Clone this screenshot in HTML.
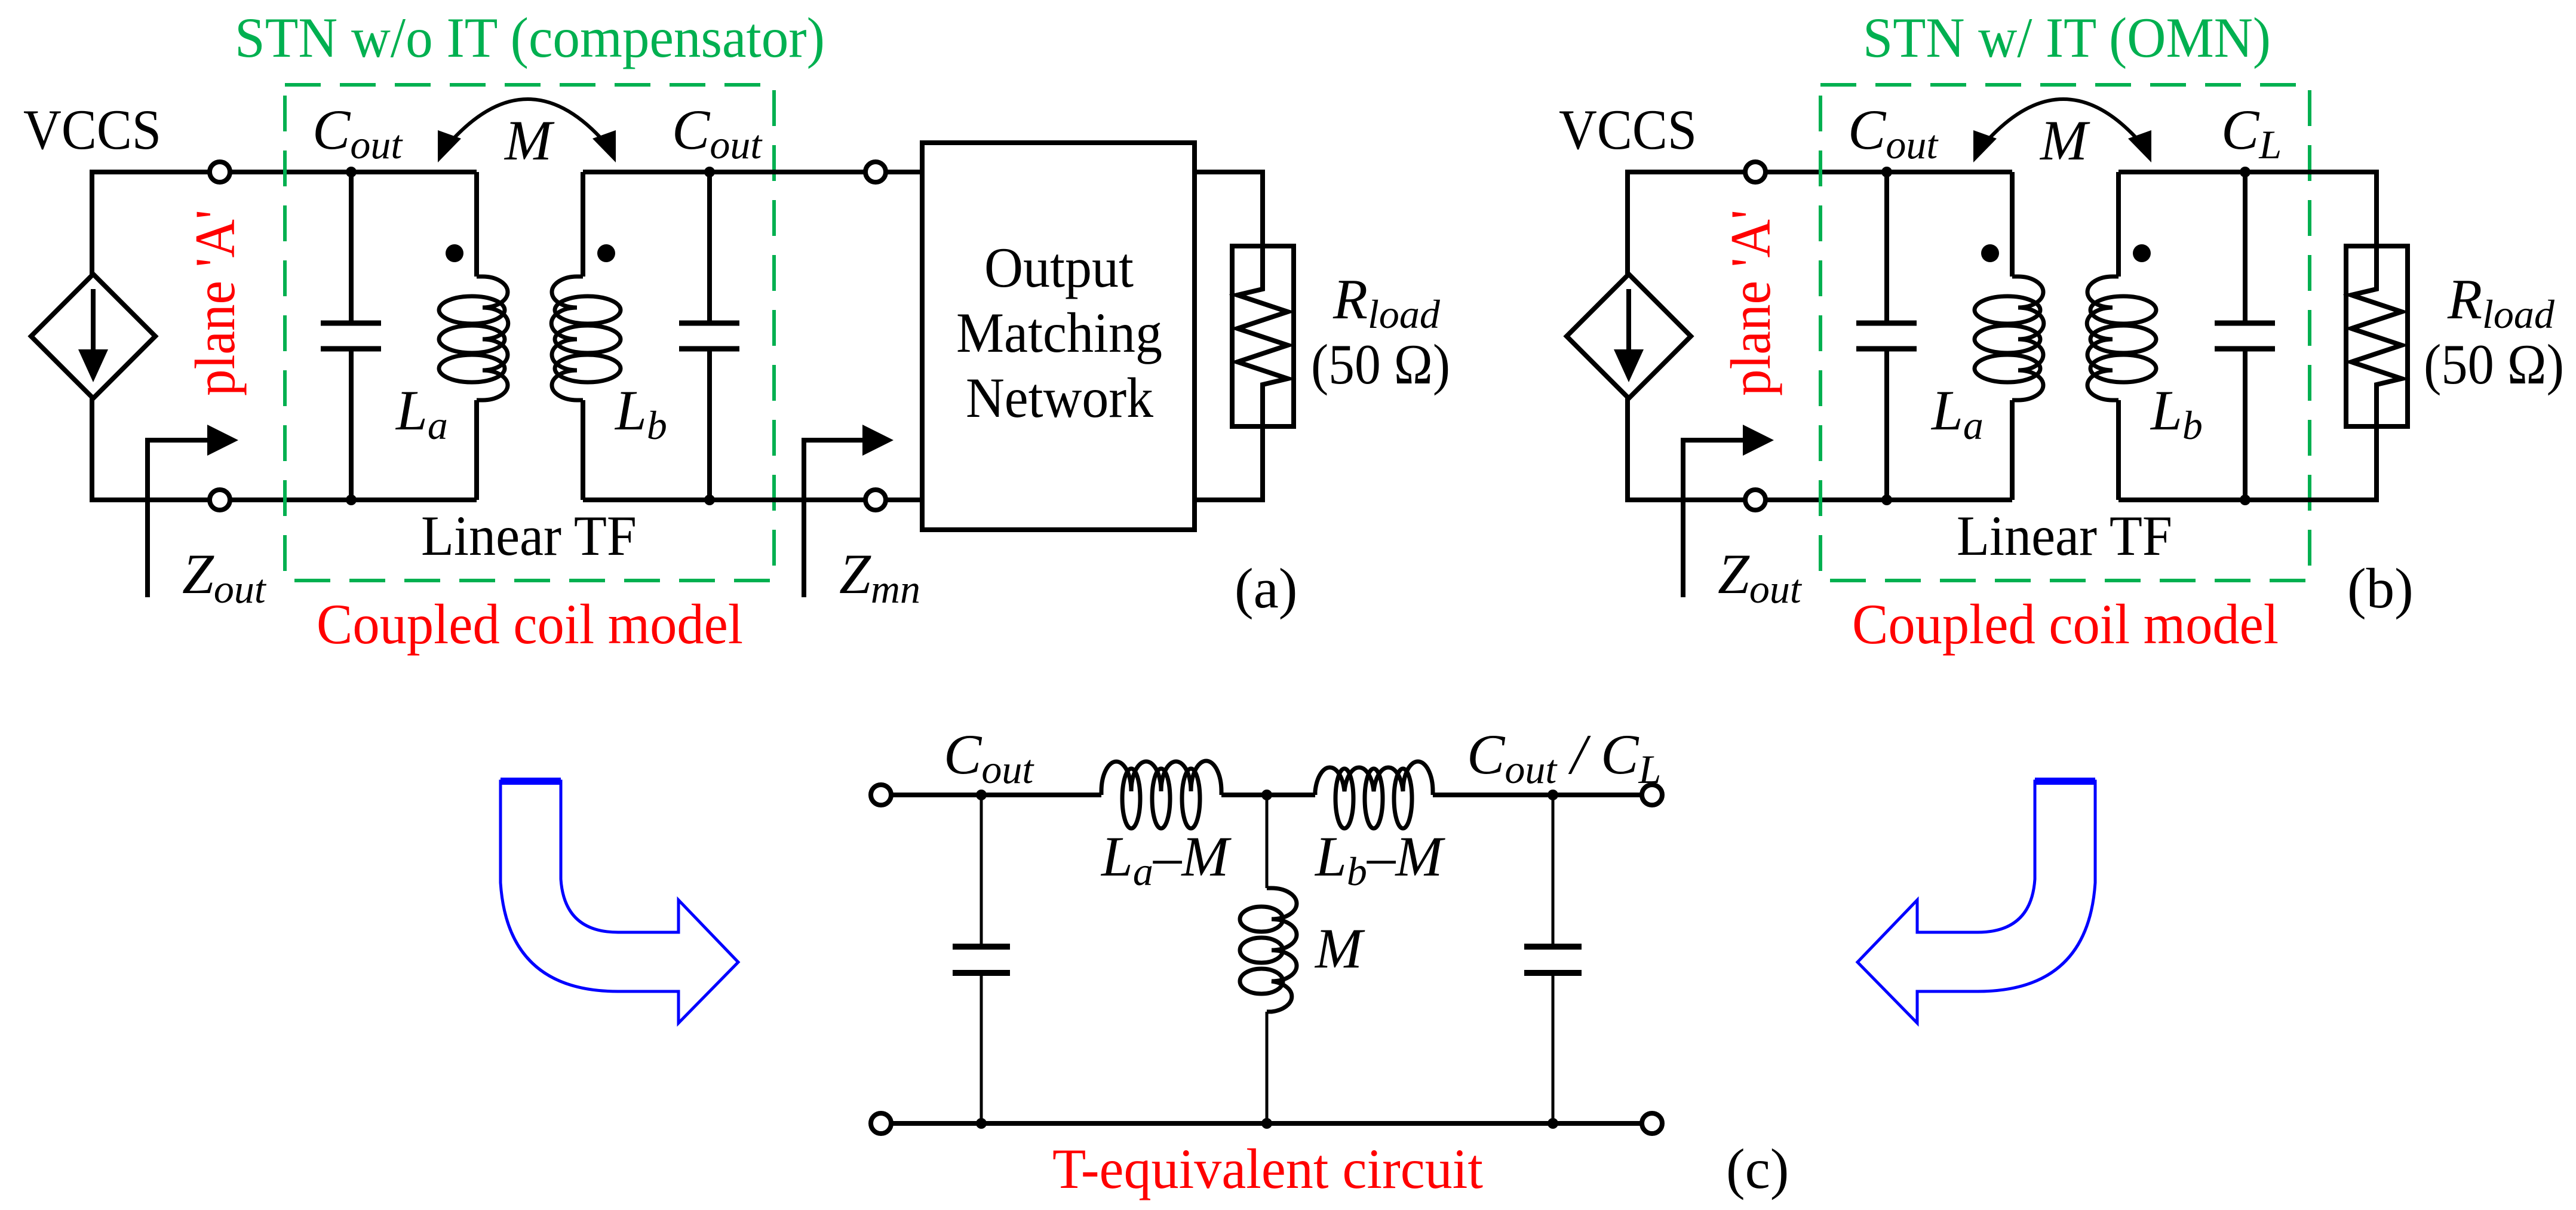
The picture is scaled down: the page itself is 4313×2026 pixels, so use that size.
<!DOCTYPE html>
<html><head><meta charset="utf-8"><style>html,body{margin:0;padding:0;background:#fff}svg{display:block}
text, tspan{font-family:"Liberation Serif","DejaVu Serif",serif;}</style></head>
<body>
<svg width="4313" height="2026" viewBox="0 0 4313 2026" xmlns="http://www.w3.org/2000/svg" font-family="Liberation Serif, DejaVu Serif, serif">
<defs>
<g id="core" fill="none" stroke="#000" stroke-width="8">
  <polyline points="351,288 154,288 154,459"/>
  <polyline points="154,667 154,837 351,837"/>
  <polygon points="156,459 260,563 156,667 52,563" />
  <line x1="156" y1="484" x2="156" y2="600"/>
  <polygon points="131,585 181,585 156,640" fill="#000" stroke="none"/>
  <line x1="385" y1="288" x2="798" y2="288"/>
  <line x1="385" y1="837" x2="798" y2="837"/>
  <circle cx="368" cy="288" r="17" fill="#fff"/>
  <circle cx="368" cy="837" r="17" fill="#fff"/>
  <polyline points="247,1000 247,737 355,737"/>
  <polygon points="347,711 399,737 347,763" fill="#000" stroke="none"/>
  <line x1="588" y1="288" x2="588" y2="541"/>
  <line x1="588" y1="584" x2="588" y2="837"/>
  <line x1="537" y1="541" x2="638" y2="541" stroke-width="9"/>
  <line x1="537" y1="584" x2="638" y2="584" stroke-width="9"/>
  <circle cx="588" cy="288" r="9" fill="#000" stroke="none"/>
  <circle cx="588" cy="837" r="9" fill="#000" stroke="none"/>
  <line x1="798" y1="288" x2="798" y2="463"/>
  <line x1="798" y1="670" x2="798" y2="837"/>
  <path d="M798,463 h10 A42,26 0 0 1 808,515 A42,26 0 0 1 808,568 A42,26 0 0 1 808,620 A42,25 0 0 1 808,670 h-10" stroke-width="7"/>
  <ellipse cx="790" cy="519" rx="55" ry="23" stroke-width="7"/>
  <ellipse cx="790" cy="568" rx="55" ry="23" stroke-width="7"/>
  <ellipse cx="790" cy="617" rx="55" ry="23" stroke-width="7"/>
  <circle cx="761" cy="424" r="15" fill="#000" stroke="none"/>
  <line x1="976" y1="288" x2="976" y2="463"/>
  <line x1="976" y1="670" x2="976" y2="837"/>
  <path d="M976,463 h-10 A42,26 0 0 0 966,515 A42,26 0 0 0 966,568 A42,26 0 0 0 966,620 A42,25 0 0 0 966,670 h10" stroke-width="7"/>
  <ellipse cx="984" cy="519" rx="55" ry="23" stroke-width="7"/>
  <ellipse cx="984" cy="568" rx="55" ry="23" stroke-width="7"/>
  <ellipse cx="984" cy="617" rx="55" ry="23" stroke-width="7"/>
  <circle cx="1015" cy="424" r="15" fill="#000" stroke="none"/>
  <line x1="976" y1="288" x2="1188" y2="288"/>
  <line x1="976" y1="837" x2="1188" y2="837"/>
  <line x1="1188" y1="288" x2="1188" y2="541"/>
  <line x1="1188" y1="584" x2="1188" y2="837"/>
  <line x1="1137" y1="541" x2="1238" y2="541" stroke-width="9"/>
  <line x1="1137" y1="584" x2="1238" y2="584" stroke-width="9"/>
  <circle cx="1188" cy="288" r="9" fill="#000" stroke="none"/>
  <circle cx="1188" cy="837" r="9" fill="#000" stroke="none"/>
  <path d="M752,240 Q884,92 1014,240" stroke-width="6"/>
  <polygon points="733,272 733,218 772,232" fill="#000" stroke="none"/>
  <polygon points="1031,272 1031,218 992,232" fill="#000" stroke="none"/>
  <rect x="477" y="142" width="819" height="830" stroke="#00b050" stroke-width="6" stroke-dasharray="60,32"/>
</g>
<g id="coretext" font-size="95" font-family="Liberation Serif, DejaVu Serif, serif">
  <text x="39" y="249" textLength="231" lengthAdjust="spacingAndGlyphs">VCCS</text>
  <text transform="translate(392,507) rotate(-90)" text-anchor="middle" fill="#ff0000" textLength="312" lengthAdjust="spacingAndGlyphs">plane 'A'</text>
  <text x="305" y="993" font-style="italic">Z<tspan font-size="68" dy="16">out</tspan></text>
  <text x="523" y="249" font-style="italic">C<tspan font-size="68" dy="16">out</tspan></text>
  <text x="845" y="267" font-style="italic">M</text>
  <text x="663" y="719" font-style="italic">L<tspan font-size="68" dy="16">a</tspan></text>
  <text x="1030" y="719" font-style="italic">L<tspan font-size="68" dy="16">b</tspan></text>
  <text x="705" y="929" textLength="361" lengthAdjust="spacingAndGlyphs">Linear TF</text>
  <text x="530" y="1077" fill="#ff0000" textLength="714" lengthAdjust="spacingAndGlyphs">Coupled coil model</text>
</g>
<g id="res" fill="none" stroke="#000" stroke-width="8">
  <rect x="-51" y="412" width="103" height="302"/>
  <polyline points="0,412 0,484 -42,494 42,522 -42,550 42,578 -42,606 42,634 0,644 0,714"/>
</g>
</defs>

<use href="#core"/>
<use href="#coretext"/>
<text x="393" y="95" font-size="95" fill="#00b050" textLength="988" lengthAdjust="spacingAndGlyphs">STN w/o IT (compensator)</text>
<text x="1125" y="249" font-size="95" font-style="italic">C<tspan font-size="68" dy="16">out</tspan></text>
<g fill="none" stroke="#000" stroke-width="8">
  <line x1="1188" y1="288" x2="1449" y2="288"/>
  <line x1="1188" y1="837" x2="1449" y2="837"/>
  <line x1="1483" y1="288" x2="1544" y2="288"/>
  <line x1="1483" y1="837" x2="1544" y2="837"/>
  <circle cx="1466" cy="288" r="17" fill="#fff"/>
  <circle cx="1466" cy="837" r="17" fill="#fff"/>
  <rect x="1544" y="239" width="456" height="648"/>
  <polyline points="2000,288 2114,288 2114,412"/>
  <polyline points="2000,837 2114,837 2114,714"/>
  <polyline points="1346,1000 1346,737 1450,737"/>
  <polygon points="1444,711 1496,737 1444,763" fill="#000" stroke="none"/>
</g>
<use href="#res" transform="translate(2114,0)"/>
<g font-size="95">
  <text x="1648" y="480" textLength="250" lengthAdjust="spacingAndGlyphs">Output</text>
  <text x="1601" y="589" textLength="345" lengthAdjust="spacingAndGlyphs">Matching</text>
  <text x="1617" y="698" textLength="314" lengthAdjust="spacingAndGlyphs">Network</text>
</g>
<text x="1405" y="993" font-size="95" font-style="italic">Z<tspan font-size="68" dy="16">mn</tspan></text>
<text x="2067" y="1017" font-size="95">(a)</text>
<text x="2232" y="533" font-size="95" font-style="italic">R<tspan font-size="68" dy="16">load</tspan></text>
<text x="2195" y="642" font-size="95" textLength="233" lengthAdjust="spacingAndGlyphs">(50 Ω)</text>

<g transform="translate(2571,0)">
  <use href="#core"/>
  <use href="#coretext"/>
</g>
<text x="3119" y="95" font-size="95" fill="#00b050" textLength="683" lengthAdjust="spacingAndGlyphs">STN w/ IT (OMN)</text>
<text x="3719" y="249" font-size="95" font-style="italic">C<tspan font-size="68" dy="16">L</tspan></text>
<g fill="none" stroke="#000" stroke-width="8">
  <polyline points="3759,288 3979,288 3979,412"/>
  <polyline points="3759,837 3979,837 3979,714"/>
</g>
<use href="#res" transform="translate(3979,0)"/>
<text x="3930" y="1017" font-size="95">(b)</text>
<text x="4098" y="533" font-size="95" font-style="italic">R<tspan font-size="68" dy="16">load</tspan></text>
<text x="4058" y="642" font-size="95" textLength="235" lengthAdjust="spacingAndGlyphs">(50 Ω)</text>

<g fill="none" stroke="#000" stroke-width="8">
  <line x1="1493" y1="1331" x2="1844" y2="1331"/>
  <line x1="2045" y1="1331" x2="2202" y2="1331"/>
  <line x1="2399" y1="1331" x2="2748" y2="1331"/>
  <line x1="1493" y1="1881" x2="2748" y2="1881"/>
  <circle cx="1475" cy="1331" r="17" fill="#fff"/>
  <circle cx="1475" cy="1881" r="17" fill="#fff"/>
  <circle cx="2766" cy="1331" r="17" fill="#fff"/>
  <circle cx="2766" cy="1881" r="17" fill="#fff"/>
  <path d="M1844,1331 v-6 A25,50 0 0 1 1894,1325 A25,50 0 0 1 1944,1325 A25,50 0 0 1 1994,1325 A25,50 0 0 1 2045,1325 v6" stroke-width="7"/>
  <ellipse cx="1894" cy="1337" rx="15" ry="50" stroke-width="7"/>
  <ellipse cx="1944" cy="1337" rx="15" ry="50" stroke-width="7"/>
  <ellipse cx="1994" cy="1337" rx="15" ry="50" stroke-width="7"/>
  <path d="M2202,1331 v-6 A25,50 0 0 1 2251,1325 A25,50 0 0 1 2300,1325 A25,50 0 0 1 2349,1325 A25,50 0 0 1 2399,1325 v6" stroke-width="7"/>
  <ellipse cx="2251" cy="1337" rx="15" ry="50" stroke-width="7"/>
  <ellipse cx="2300" cy="1337" rx="15" ry="50" stroke-width="7"/>
  <ellipse cx="2349" cy="1337" rx="15" ry="50" stroke-width="7"/>
  <line x1="2121" y1="1331" x2="2121" y2="1487" stroke-width="5"/>
  <line x1="2121" y1="1694" x2="2121" y2="1881" stroke-width="5"/>
  <path d="M2121,1487 h8 A42,26 0 0 1 2129,1539 A42,26 0 0 1 2129,1591 A42,26 0 0 1 2129,1643 A42,26 0 0 1 2129,1694 h-8" stroke-width="7"/>
  <ellipse cx="2112" cy="1539" rx="36" ry="21" stroke-width="7"/>
  <ellipse cx="2112" cy="1591" rx="36" ry="21" stroke-width="7"/>
  <ellipse cx="2112" cy="1643" rx="36" ry="21" stroke-width="7"/>
  <line x1="1643" y1="1331" x2="1643" y2="1585" stroke-width="5"/>
  <line x1="1643" y1="1629" x2="1643" y2="1881" stroke-width="5"/>
  <line x1="1595" y1="1585" x2="1691" y2="1585" stroke-width="10"/>
  <line x1="1595" y1="1629" x2="1691" y2="1629" stroke-width="10"/>
  <line x1="2600" y1="1331" x2="2600" y2="1585" stroke-width="5"/>
  <line x1="2600" y1="1629" x2="2600" y2="1881" stroke-width="5"/>
  <line x1="2552" y1="1585" x2="2648" y2="1585" stroke-width="10"/>
  <line x1="2552" y1="1629" x2="2648" y2="1629" stroke-width="10"/>
</g>
<g fill="#000">
  <circle cx="1643" cy="1331" r="9"/><circle cx="1643" cy="1881" r="9"/>
  <circle cx="2121" cy="1331" r="9"/><circle cx="2121" cy="1881" r="9"/>
  <circle cx="2600" cy="1331" r="9"/><circle cx="2600" cy="1881" r="9"/>
</g>
<g font-size="95" font-style="italic">
  <text x="1580" y="1295">C<tspan font-size="68" dy="16">out</tspan></text>
  <text x="2456" y="1295">C<tspan font-size="68" dy="16">out</tspan><tspan dy="-16"> / C</tspan><tspan font-size="68" dy="16">L</tspan></text>
  <text x="1844" y="1466">L<tspan font-size="68" dy="16">a</tspan><tspan dy="-16">–M</tspan></text>
  <text x="2202" y="1466">L<tspan font-size="68" dy="16">b</tspan><tspan dy="-16">–M</tspan></text>
  <text x="2202" y="1620">M</text>
</g>
<text x="1762" y="1989" font-size="95" fill="#ff0000" textLength="721" lengthAdjust="spacingAndGlyphs">T-equivalent circuit</text>
<text x="2890" y="1989" font-size="95">(c)</text>

<g id="barrow" fill="#fff" stroke="#0000ff" stroke-width="5">
  <path d="M838,1308 L939,1308 L939,1472 Q945,1561 1035,1561 L1136,1561 L1136,1507 L1236,1611 L1136,1713 L1136,1660 L1035,1660 Q850,1660 838,1478 Z"/>
  <line x1="838" y1="1308" x2="939" y2="1308" stroke-width="12"/>
</g>
<use href="#barrow" transform="translate(4346,0) scale(-1,1)"/>
</svg>
</body></html>
